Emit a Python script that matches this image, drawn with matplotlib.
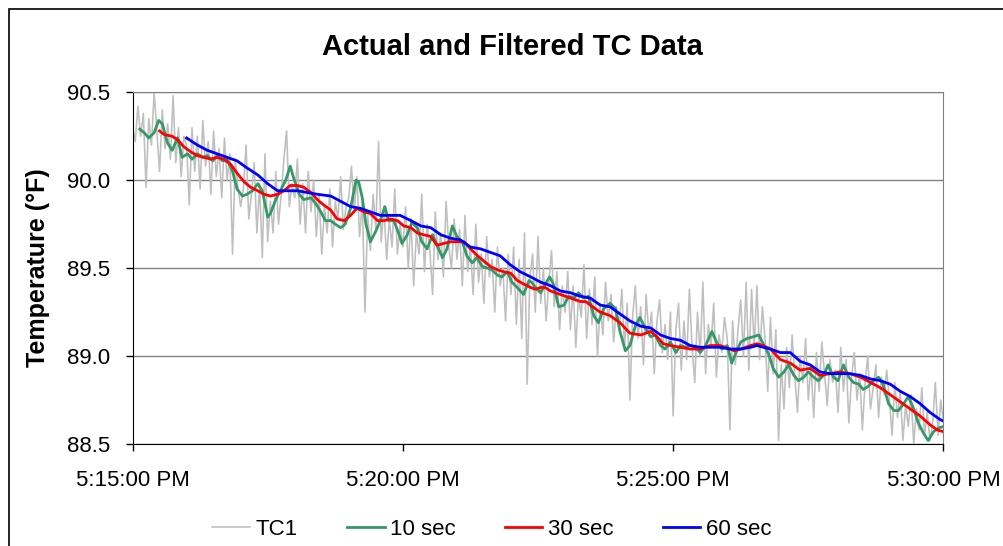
import matplotlib
matplotlib.use("Agg")
import matplotlib.pyplot as plt
import numpy as np
from matplotlib.patches import Rectangle

plt.rcParams["font.family"] = ["Liberation Sans", "DejaVu Sans"]

# seconds after 5:15:00 PM
tick_seconds = [0, 300, 600, 900]
tick_labels = ["5:15:00 PM", "5:20:00 PM", "5:25:00 PM", "5:30:00 PM"]
y_ticks = [88.5, 89.0, 89.5, 90.0, 90.5]

# raw TC1 readings, one every 3 s (20 per minute)
tc1_step = 3
tc1_values = [
    90.30, 90.22, 90.42, 90.25, 90.38, 89.96, 90.35, 90.20, 90.50, 90.28, 90.05, 90.40, 90.18, 90.32, 90.12, 90.48, 90.10, 90.30, 90.02, 90.25,
    90.20, 89.86, 90.30, 90.05, 90.25, 89.95, 90.34, 90.08, 90.22, 89.92, 90.28, 90.02, 90.18, 89.90, 90.24, 90.00, 90.15, 89.58, 90.12, 89.96,
    89.85, 89.95, 90.20, 89.78, 89.92, 90.10, 89.70, 89.98, 89.56, 90.15, 89.65, 89.88, 89.70, 90.05, 89.75, 89.92, 90.12, 90.28, 89.85, 89.98,
    89.90, 90.12, 89.75, 89.98, 89.70, 90.05, 89.82, 90.00, 89.68, 89.92, 89.58, 89.85, 89.70, 89.95, 89.62, 89.88, 89.78, 90.02, 89.72, 89.85,
    89.90, 90.08, 89.82, 90.02, 89.68, 89.88, 89.25, 89.80, 89.60, 89.92, 89.72, 90.22, 89.65, 89.85, 89.55, 89.78, 89.62, 89.95, 89.58, 89.75,
    89.62, 89.85, 89.50, 89.78, 89.40, 89.70, 89.58, 89.92, 89.48, 89.75, 89.60, 89.35, 89.82, 89.55, 89.70, 89.45, 89.88, 89.62, 89.50, 89.78,
    89.55, 89.72, 89.40, 89.80, 89.48, 89.62, 89.35, 89.75, 89.42, 89.58, 89.30, 89.68, 89.45, 89.55, 89.25, 89.62, 89.40, 89.50, 89.20, 89.58,
    89.35, 89.62, 89.18, 89.55, 89.10, 89.70, 88.84, 89.45, 89.58, 89.25, 89.68, 89.30, 89.50, 89.20, 89.42, 89.60, 89.28, 89.48, 89.15, 89.40,
    89.25, 89.48, 89.15, 89.40, 89.05, 89.35, 89.22, 89.52, 89.10, 89.38, 89.18, 89.45, 89.00, 89.30, 89.12, 89.42, 89.20, 89.35, 89.08, 89.28,
    89.15, 89.38, 89.05, 89.30, 88.75, 89.22, 89.40, 89.10, 89.28, 88.95, 89.35, 89.12, 89.25, 88.90, 89.20, 89.32, 89.02, 89.18, 88.98, 89.25,
    88.66, 89.15, 89.30, 88.92, 89.20, 88.98, 89.38, 89.05, 88.85, 89.25, 89.00, 89.42, 88.90, 89.18, 89.05, 89.30, 88.88, 89.12, 89.02, 89.22,
    89.10, 88.58, 89.20, 88.95, 89.15, 89.32, 89.00, 89.42, 88.92, 89.38, 89.05, 89.40, 88.98, 89.28, 89.10, 88.80, 89.22, 88.90, 89.15, 88.52,
    88.95, 88.70, 89.05, 88.82, 89.12, 88.88, 88.68, 89.00, 88.85, 89.10, 88.75, 88.95, 88.65, 89.02, 88.80, 89.08, 88.90, 88.72, 88.98, 88.85,
    88.92, 88.68, 89.05, 88.80, 88.98, 88.62, 88.88, 89.02, 88.75, 88.90, 88.58, 88.85, 89.00, 88.70, 88.82, 88.95, 88.65, 88.88, 88.78, 88.92,
    88.75, 88.55, 88.85, 88.65, 88.80, 88.52, 88.72, 88.60, 88.78, 88.50, 88.70, 88.58, 88.82, 88.55, 88.68, 88.52, 88.62, 88.85, 88.55, 88.75,
    88.62,
]

# 10 second filter
f10_t = [8, 13, 18, 24, 29, 33, 39, 44, 50, 55, 61, 66, 72, 78, 83, 89, 94, 100, 105, 111,
         116, 122, 127, 133, 139, 144, 150, 153, 159, 164, 170, 175, 179, 185, 190, 198, 203, 209, 214, 220,
         225, 231, 236, 242, 248, 251, 255, 259, 264, 270, 275, 280, 284, 290, 296, 299, 305, 310, 316, 321,
         327, 333, 338, 344, 349, 355, 360, 366, 371, 377, 382, 388, 394, 399, 405, 410, 416, 421, 427, 434,
         440, 443, 447, 453, 458, 463, 467, 473, 479, 484, 490, 495, 501, 506, 512, 517, 523, 530, 536, 541,
         547, 552, 558, 563, 569, 575, 580, 586, 591, 597, 603, 608, 614, 619, 625, 630, 636, 643, 649, 654,
         660, 665, 669, 675, 682, 689, 695, 700, 706, 711, 717, 723, 728, 734, 739, 745, 750, 756, 761, 767,
         772, 778, 783, 789, 795, 800, 806, 811, 817, 822, 828, 833, 839, 845, 850, 856, 861, 867, 872, 878,
         883, 889, 894, 900]
f10_v = [90.29, 90.27, 90.24, 90.27, 90.34, 90.32, 90.21, 90.17, 90.24, 90.13, 90.15, 90.12, 90.15, 90.13, 90.14, 90.11, 90.14, 90.11, 90.12, 90.05,
         89.95, 89.91, 89.92, 89.94, 89.98, 89.94, 89.79, 89.81, 89.89, 89.94, 90.00, 90.08, 90.01, 89.92, 89.89, 89.90, 89.87, 89.82, 89.77, 89.77,
         89.75, 89.73, 89.75, 89.84, 90.00, 89.99, 89.90, 89.75, 89.65, 89.71, 89.77, 89.85, 89.77, 89.77, 89.69, 89.64, 89.69, 89.76, 89.73, 89.65,
         89.61, 89.69, 89.63, 89.56, 89.61, 89.74, 89.68, 89.65, 89.57, 89.53, 89.56, 89.51, 89.50, 89.49, 89.46, 89.45, 89.48, 89.42, 89.39, 89.35,
         89.43, 89.42, 89.39, 89.36, 89.41, 89.45, 89.41, 89.28, 89.29, 89.34, 89.33, 89.36, 89.33, 89.34, 89.23, 89.19, 89.27, 89.30, 89.27, 89.14,
         89.03, 89.06, 89.17, 89.22, 89.16, 89.11, 89.12, 89.06, 89.04, 89.08, 89.02, 89.06, 89.05, 89.06, 89.05, 89.02, 89.06, 89.14, 89.07, 89.04,
         89.06, 88.96, 89.01, 89.08, 89.10, 89.11, 89.12, 89.07, 89.01, 88.93, 88.88, 88.91, 88.95, 88.89, 88.86, 88.88, 88.91, 88.88, 88.86, 88.89,
         88.95, 88.88, 88.86, 88.95, 88.88, 88.85, 88.84, 88.81, 88.83, 88.86, 88.88, 88.84, 88.73, 88.69, 88.69, 88.73, 88.77, 88.70, 88.62, 88.56,
         88.52, 88.57, 88.59, 88.60]

# 30 second filter
f30_t = [30, 35, 44, 50, 57, 65, 72, 79, 87, 94, 101, 109, 116, 124, 131, 139, 146, 153, 161, 168,
         175, 183, 190, 198, 205, 212, 220, 227, 235, 242, 249, 257, 264, 272, 279, 286, 294, 301, 309, 316,
         323, 331, 338, 345, 353, 360, 368, 375, 383, 390, 397, 405, 412, 420, 427, 434, 442, 447, 453, 458,
         464, 475, 486, 497, 503, 508, 519, 530, 541, 552, 564, 575, 582, 589, 597, 608, 619, 630, 641, 652,
         663, 668, 675, 686, 693, 700, 708, 719, 730, 741, 752, 763, 774, 785, 796, 808, 819, 830, 841, 852,
         863, 874, 885, 893, 900]
f30_v = [90.28, 90.26, 90.25, 90.23, 90.19, 90.16, 90.14, 90.13, 90.12, 90.13, 90.12, 90.09, 90.04, 89.99, 89.96, 89.94, 89.92, 89.91, 89.92, 89.94,
         89.97, 89.97, 89.96, 89.93, 89.89, 89.86, 89.83, 89.78, 89.77, 89.80, 89.84, 89.82, 89.81, 89.77, 89.77, 89.78, 89.77, 89.74, 89.73, 89.70,
         89.69, 89.68, 89.63, 89.64, 89.65, 89.65, 89.65, 89.61, 89.57, 89.54, 89.51, 89.49, 89.48, 89.47, 89.43, 89.41, 89.39, 89.38, 89.39, 89.39,
         89.37, 89.35, 89.33, 89.31, 89.31, 89.29, 89.25, 89.23, 89.19, 89.13, 89.12, 89.14, 89.11, 89.07, 89.06, 89.05, 89.04, 89.04, 89.06, 89.06,
         89.04, 89.03, 89.04, 89.06, 89.07, 89.06, 89.04, 88.98, 88.96, 88.92, 88.93, 88.89, 88.90, 88.91, 88.90, 88.88, 88.85, 88.82, 88.78, 88.74,
         88.70, 88.66, 88.61, 88.58, 88.57]

# 60 second filter
f60_t = [60, 72, 83, 94, 105, 116, 127, 139, 150, 161, 172, 183, 194, 205, 220, 231, 242, 253, 264, 275,
         286, 297, 309, 320, 331, 342, 353, 364, 375, 386, 397, 408, 419, 430, 442, 453, 464, 475, 486, 497,
         508, 519, 530, 541, 552, 564, 575, 586, 597, 608, 619, 630, 641, 652, 663, 675, 686, 693, 700, 708,
         719, 730, 741, 752, 763, 774, 785, 796, 808, 819, 830, 841, 852, 863, 874, 885, 896, 900]
f60_v = [90.24, 90.20, 90.17, 90.15, 90.13, 90.11, 90.07, 90.03, 89.98, 89.94, 89.94, 89.94, 89.93, 89.92, 89.91, 89.88, 89.85, 89.84, 89.82, 89.80,
         89.80, 89.80, 89.77, 89.74, 89.73, 89.69, 89.67, 89.66, 89.62, 89.61, 89.59, 89.57, 89.52, 89.48, 89.45, 89.42, 89.40, 89.37, 89.36, 89.34,
         89.33, 89.29, 89.28, 89.24, 89.20, 89.17, 89.16, 89.12, 89.10, 89.09, 89.06, 89.05, 89.05, 89.05, 89.04, 89.04, 89.05, 89.06, 89.05, 89.04,
         89.02, 89.02, 88.97, 88.95, 88.91, 88.90, 88.90, 88.90, 88.89, 88.87, 88.86, 88.84, 88.80, 88.77, 88.73, 88.68, 88.64, 88.63]

series = [
    ("TC1", np.arange(len(tc1_values)) * tc1_step, tc1_values, "#BFBFBF", 1.15),
    ("10 sec", f10_t, f10_v, "#339966", 2.0),
    ("30 sec", f30_t, f30_v, "#FF0000", 2.0),
    ("60 sec", f60_t, f60_v, "#0000FF", 2.0),
]

fig = plt.figure(figsize=(10.04, 5.46), dpi=100)
ax = fig.add_axes([0.132, 0.1868, 0.8077, 0.6442])

for label, t, v, color, lw in series:
    ax.plot(t, v, color=color, lw=lw, label=label, solid_joinstyle="round")

ax.set_xlim(0, 900)
ax.set_ylim(88.5, 90.5)
ax.set_xticks(tick_seconds)
ax.set_xticklabels(tick_labels)
ax.set_yticks(y_ticks)
ax.set_yticklabels([f"{y:.1f}" for y in y_ticks])
ax.yaxis.grid(True, color="#808080", lw=1.0)
ax.set_axisbelow(True)
ax.tick_params(axis="y", direction="out", length=5, width=1, pad=11, labelsize=16)
ax.tick_params(axis="x", direction="out", length=5, width=1, pad=14, labelsize=16)
for side in ("top", "right"):
    ax.spines[side].set_color("#808080")
for side in ("left", "bottom"):
    ax.spines[side].set_color("black")

fig.text(512 / 1004, 1 - 55 / 546, "Actual and Filtered TC Data", ha="center",
         va="baseline", fontsize=21, fontweight="bold")
fig.text(38 / 1004, 1 - 268 / 546, "Temperature (°F)", rotation=90, ha="center",
         va="center", fontsize=18, fontweight="bold")

fig.legend(loc="center", bbox_to_anchor=(0.490, 0.030), ncol=4, frameon=False,
           fontsize=16, handlelength=1.7, handletextpad=0.25, columnspacing=2.2)

fig.patches.append(Rectangle((9 / 1004, -0.1), 1.2, 1.1 - 9 / 546, transform=fig.transFigure,
                             fill=False, ec="black", lw=1.2, clip_on=False))

fig.savefig("out.png", dpi=100)
